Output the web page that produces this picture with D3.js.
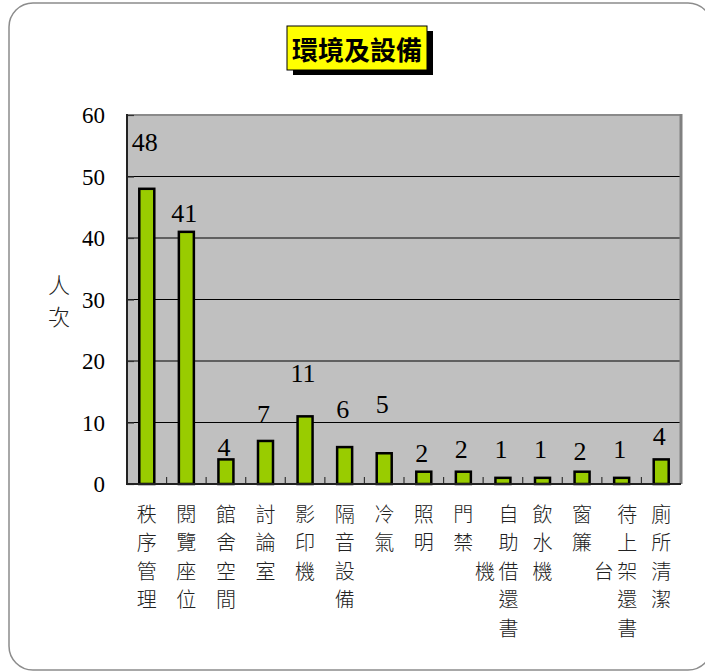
<!DOCTYPE html>
<html>
<head>
<meta charset="utf-8">
<script src="https://cdn.jsdelivr.net/npm/d3@7"></script>
<style>
  html, body { margin: 0; padding: 0; background: #fff; }
  svg { display: block; }
</style>
</head>
<body>
<svg id="chart" width="705" height="671"></svg>
<script>
// ---- data ----
const categories = ["秩序管理", "閱覽座位", "館舍空間", "討論室", "影印機", "隔音設備", "冷氣",
  "照明", "門禁", "自助借還書機", "飲水機", "窗簾", "待上架還書台", "廁所清潔"];
const values = [48, 41, 4, 7, 11, 6, 5, 2, 2, 1, 1, 2, 1, 4];
const yTicks = [0, 10, 20, 30, 40, 50, 60];
const titleText = "環境及設備";
const yTitle = ["人", "次"];

// ---- layout (value-axis units where the data labels sit) ----
const labelPos = [54.1, 42.6, 4.55, 9.9, 16.6, 10.7, 11.5, 3.6, 4.2, 4.2, 4.2, 3.9, 4.2, 6.3];

const SERIF = '"Liberation Serif", "Times New Roman", serif';
const CJK = '"Noto Sans CJK TC", "Noto Sans CJK SC", sans-serif';

const svg = d3.select("#chart");
const plot = { left: 127, right: 681, top: 115, bottom: 484 };

// outer rounded frame
svg.append("rect")
  .attr("x", 9).attr("y", 3).attr("width", 703).attr("height", 667)
  .attr("rx", 24).attr("ry", 24)
  .attr("fill", "#fff").attr("stroke", "#8c8c8c").attr("stroke-width", 1.5);

const x = d3.scaleBand().domain(categories).range([plot.left, plot.right]).padding(0);
const y = d3.scaleLinear().domain([0, 60]).range([plot.bottom, plot.top]);

// plot background
svg.append("rect")
  .attr("x", plot.left).attr("y", plot.top)
  .attr("width", plot.right - plot.left).attr("height", plot.bottom - plot.top)
  .attr("fill", "#c0c0c0");

// gridlines
svg.append("g").selectAll("line")
  .data(yTicks.filter(t => t > 0 && t < 60))
  .join("line")
  .attr("x1", plot.left).attr("x2", plot.right)
  .attr("y1", d => y(d)).attr("y2", d => y(d))
  .attr("stroke", "#000").attr("stroke-width", 1);

// top & right border (gray)
svg.append("line").attr("x1", plot.left).attr("x2", plot.right)
  .attr("y1", plot.top).attr("y2", plot.top)
  .attr("stroke", "#8a8a8a").attr("stroke-width", 2);
svg.append("line").attr("x1", plot.right).attr("x2", plot.right)
  .attr("y1", plot.top - 1).attr("y2", plot.bottom)
  .attr("stroke", "#808080").attr("stroke-width", 3);

// y axis
const yAxis = d3.axisRight(y).tickValues(yTicks).tickSize(7).tickFormat("");
const gy = svg.append("g").attr("transform", `translate(${plot.left},0)`).call(yAxis);
gy.select(".domain").remove();
gy.selectAll(".tick line").attr("stroke", "#333").attr("stroke-width", 1.2);
svg.append("line").attr("x1", plot.left).attr("x2", plot.left)
  .attr("y1", plot.top - 1).attr("y2", plot.bottom + 1)
  .attr("stroke", "#222").attr("stroke-width", 2);

// y tick labels
svg.append("g").selectAll("text")
  .data(yTicks).join("text")
  .style("font-family", SERIF)
  .attr("x", 105).attr("y", d => y(d))
  .attr("dy", "0.35em")
  .attr("text-anchor", "end")
  .attr("font-size", 23)
  .attr("fill", "#000")
  .text(d => d);

// x axis ticks at category boundaries (pointing up)
const boundaries = categories.slice(1).map(c => x(c));
svg.append("g").selectAll("line")
  .data(boundaries).join("line")
  .attr("x1", d => d).attr("x2", d => d)
  .attr("y1", plot.bottom).attr("y2", plot.bottom - 7)
  .attr("stroke", "#333").attr("stroke-width", 1.2);

// bars
const barW = 15;
svg.append("g").selectAll("rect")
  .data(values).join("rect")
  .attr("x", (d, i) => x(categories[i]) + x.bandwidth() / 2 - barW / 2)
  .attr("y", d => y(d))
  .attr("width", barW)
  .attr("height", d => y(0) - y(d))
  .attr("fill", "#99cc00")
  .attr("stroke", "#000").attr("stroke-width", 2.5);

// x axis line
svg.append("line").attr("x1", plot.left - 1).attr("x2", plot.right)
  .attr("y1", plot.bottom).attr("y2", plot.bottom)
  .attr("stroke", "#222").attr("stroke-width", 2);

// data labels
svg.append("g").selectAll("text")
  .data(values).join("text")
  .style("font-family", SERIF)
  .attr("x", (d, i) => x(categories[i]) + x.bandwidth() / 2 - 2)
  .attr("y", (d, i) => y(labelPos[i]))
  .attr("text-anchor", "middle")
  .attr("font-size", 26)
  .attr("fill", "#000")
  .text(d => d);

// category labels (vertical stacked text, wraps into a second column to the left after 5 chars)
const rowY0 = 514, rowStep = 28.5, maxRows = 5;
const catG = svg.append("g")
  .style("font-family", CJK)
  .attr("font-size", 20)
  .attr("font-weight", 300)
  .attr("fill", "#222");
categories.forEach((c, i) => {
  const cx = x(c) + x.bandwidth() / 2;
  const chars = Array.from(c);
  const cols = [];
  for (let k = 0; k < chars.length; k += maxRows) cols.push(chars.slice(k, k + maxRows));
  cols.forEach((col, ci) => {
    const colX = cols.length > 1 ? (ci === 0 ? cx + 5.5 : cx - 18) : cx;
    const off = ci === 0 ? 0 : Math.floor((maxRows - col.length) / 2);
    col.forEach((ch, r) => {
      catG.append("text")
        .attr("x", colX)
        .attr("y", rowY0 + (r + off) * rowStep)
        .attr("dy", "0.38em")
        .attr("text-anchor", "middle")
        .text(ch);
    });
  });
});

// y-axis title
svg.append("g").selectAll("text")
  .data(yTitle).join("text")
  .style("font-family", CJK)
  .attr("x", 59).attr("y", (d, i) => 285 + i * 32)
  .attr("dy", "0.38em")
  .attr("text-anchor", "middle")
  .attr("font-size", 22)
  .attr("font-weight", 300)
  .attr("fill", "#222")
  .text(d => d);

// title box with shadow
const tb = { x: 287, y: 26, w: 140, h: 44 };
svg.append("rect").attr("x", tb.x + 6).attr("y", tb.y + 5)
  .attr("width", tb.w).attr("height", tb.h).attr("fill", "#000");
svg.append("rect").attr("x", tb.x).attr("y", tb.y)
  .attr("width", tb.w).attr("height", tb.h)
  .attr("fill", "#ffff00").attr("stroke", "#000").attr("stroke-width", 1);
svg.append("text")
  .style("font-family", CJK)
  .attr("x", tb.x + tb.w / 2).attr("y", tb.y + tb.h / 2 + 3)
  .attr("dy", "0.36em")
  .attr("text-anchor", "middle")
  .attr("font-size", 26)
  .attr("font-weight", "bold")
  .attr("fill", "#000")
  .text(titleText);
</script>
</body>
</html>
